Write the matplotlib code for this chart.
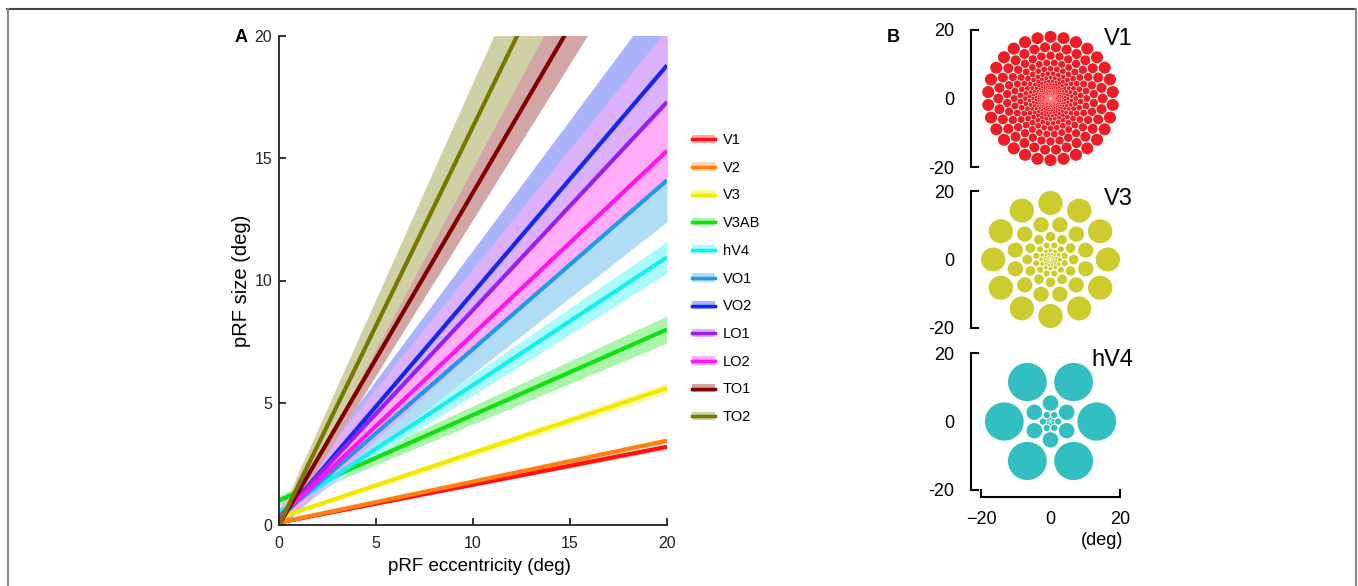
import numpy as np
import matplotlib
matplotlib.use("Agg")
import matplotlib.pyplot as plt
from matplotlib.lines import Line2D
from matplotlib.patches import Patch, Circle
from matplotlib.legend_handler import HandlerTuple
from matplotlib.colors import to_rgb

plt.rcParams['font.family'] = ['Liberation Sans', 'DejaVu Sans']

# ---------------- data: panel A ----------------
roi_names = ['V1', 'V2', 'V3', 'V3AB', 'hV4', 'VO1', 'VO2', 'LO1', 'LO2', 'TO1', 'TO2']
roi_colors = ['#ff1010', '#ff8010', '#f0ea00', '#10e010', '#10f0f0', '#1e9be6',
              '#1028f0', '#9a1ef0', '#ff14ee', '#800000', '#787800']
ecc_range = [0.0, 20.0]
size_at_0 = [0.1, 0.1, 0.3, 1.0, 0.5, 0.3, 0.2, 0.3, 0.3, 0.0, 0.0]
size_at_20 = [3.2, 3.45, 5.6, 8.0, 10.95, 14.1, 18.8, 17.3, 15.3, 27.2, 32.6]
ci_low_0 = [0.05, 0.05, 0.2, 0.8, 0.3, 0.0, -0.2, -0.1, 0.1, -0.3, -0.3]
ci_high_0 = [0.15, 0.15, 0.4, 1.2, 0.7, 0.6, 0.6, 0.7, 0.5, 0.3, 0.3]
ci_low_20 = [3.1, 3.35, 5.4, 7.45, 10.3, 12.4, 15.7, 14.3, 14.2, 25.2, 29.4]
ci_high_20 = [3.3, 3.55, 5.8, 8.55, 11.6, 15.6, 21.9, 20.3, 17.2, 29.4, 35.8]
a_xticks = [0, 5, 10, 15, 20]
a_yticks = [0, 5, 10, 15, 20]
band_alpha = 0.35

# ---------------- data: panel B ----------------
mosaic_names = ['V1', 'V3', 'hV4']
mosaic_colors = ['#ee1c25', '#cccc2e', '#33bfc2']
ring_counts = [30, 12, 6]           # pRFs per ring
outer_ecc = [18.0, 16.5, 13.3]      # eccentricity of outermost ring (deg)
ring_offset_deg = [90.0, 90.0, 0.0] # polar angle of first pRF in outer ring
fill_factor = [0.93, 0.82, 0.84]
b_ticks = [-20, 0, 20]

W, H = 1358, 586
fig = plt.figure(figsize=(W / 100, H / 100), dpi=100)


def fx(px):
    return px / W


def fy(py):
    return 1 - py / H


def light(c, a=band_alpha):
    r, g, b = to_rgb(c)
    return (1 - a * (1 - r), 1 - a * (1 - g), 1 - a * (1 - b))


# ---------------- panel A ----------------
axA = fig.add_axes([fx(279), fy(525), fx(667) - fx(279), fy(36) - fy(525)])
x = np.array(ecc_range)
for i, name in enumerate(roi_names):
    axA.fill_between(x, [ci_low_0[i], ci_low_20[i]], [ci_high_0[i], ci_high_20[i]],
                     color=light(roi_colors[i]), lw=0, zorder=1)
for i, name in enumerate(roi_names):
    axA.plot(x, [size_at_0[i], size_at_20[i]], color=roi_colors[i], lw=3,
             solid_capstyle='butt', zorder=2)
axA.set_xlim(0, 20)
axA.set_ylim(0, 20)
axA.set_xticks(a_xticks)
axA.set_yticks(a_yticks)
axA.spines['top'].set_visible(False)
axA.spines['right'].set_visible(False)
for s in ['left', 'bottom']:
    axA.spines[s].set_linewidth(1.3)
    axA.spines[s].set_color('#222222')
axA.tick_params(axis='both', direction='in', length=5, width=1.3, labelsize=11.5,
                colors='#222222')
axA.tick_params(axis='y', pad=5)
axA.tick_params(axis='x', pad=8)
axA.set_xlabel('pRF eccentricity (deg)', fontsize=13.5)
axA.set_ylabel('pRF size (deg)', fontsize=14.5)
axA.xaxis.set_label_coords(0.517, -0.067)
axA.yaxis.set_label_coords(-0.072, 0.5)

handles = []
for i, name in enumerate(roi_names):
    handles.append((Patch(facecolor=light(roi_colors[i]), lw=0),
                    Line2D([], [], color=roi_colors[i], lw=2.5)))
leg = fig.legend(handles, roi_names, loc='upper left',
                 bbox_to_anchor=(fx(692), fy(133)), frameon=False,
                 fontsize=10.5, handlelength=1.6, handleheight=0.5,
                 handletextpad=0.5, labelspacing=0.94, borderpad=0,
                 borderaxespad=0,
                 handler_map={tuple: HandlerTuple(ndivide=1, pad=0)})

fig.text(fx(235), fy(42), 'A', fontsize=13, fontweight='bold', ha='left',
         va='baseline')
fig.text(fx(887), fy(42), 'B', fontsize=13, fontweight='bold', ha='left',
         va='baseline')

# ---------------- panel B ----------------
b_tops = [30, 191, 353]
for k, name in enumerate(mosaic_names):
    top = b_tops[k]
    ax = fig.add_axes([fx(981), fy(top + 137), fx(1120) - fx(981),
                       fy(top) - fy(top + 137)])
    N = ring_counts[k]
    q = np.exp(-(2 * np.pi / N) * (np.sqrt(3) / 2))
    r = outer_ecc[k]
    j = 0
    while r > 0.35:
        ang0 = np.deg2rad(ring_offset_deg[k]) + (j % 2) * np.pi / N
        angs = ang0 + np.arange(N) * 2 * np.pi / N
        rad = fill_factor[k] * r * np.sin(np.pi / N)
        for a in angs:
            ax.add_patch(Circle((r * np.cos(a), r * np.sin(a)), rad,
                                facecolor=mosaic_colors[k], edgecolor='none'))
        r *= q
        j += 1
    ax.set_xlim(-20, 20)
    ax.set_ylim(-20, 20)
    ax.set_yticks(b_ticks)
    ax.set_yticklabels(['-20', '0', '20'])
    ax.spines['top'].set_visible(False)
    ax.spines['right'].set_visible(False)
    ax.spines['left'].set_position(('outward', 7))
    ax.spines['left'].set_linewidth(1.5)
    ax.tick_params(axis='y', direction='in', length=6, width=1.5, labelsize=13,
                   pad=12)
    ax.yaxis.get_major_ticks()[1].tick1line.set_visible(False)
    if k == 2:
        ax.spines['bottom'].set_position(('outward', 5))
        ax.spines['bottom'].set_linewidth(1.5)
        ax.set_xticks(b_ticks)
        ax.set_xticklabels(['\u221220', '0', '20'])
        ax.tick_params(axis='x', direction='in', length=6, width=1.5,
                       labelsize=13, pad=10)
        ax.xaxis.get_major_ticks()[1].tick1line.set_visible(False)
        ax.text(1.02, -0.37, '(deg)', transform=ax.transAxes, fontsize=13,
                ha='right', va='center')
    else:
        ax.spines['bottom'].set_visible(False)
        ax.set_xticks([])
    ax.patch.set_alpha(0)
    ax.text(23.8, [15.6, 15.9, 16.2][k], name, fontsize=17, ha='right',
            va='baseline', clip_on=False)

# figure frame (top, left, right edges)
fig.add_artist(Line2D([fx(7), fx(1356)], [fy(9), fy(9)], transform=fig.transFigure,
                      color='#444444', lw=1.5))
fig.add_artist(Line2D([fx(7.5), fx(7.5)], [fy(9), 0], transform=fig.transFigure,
                      color='#888888', lw=1.5))
fig.add_artist(Line2D([fx(1356), fx(1356)], [fy(9), 0], transform=fig.transFigure,
                      color='#888888', lw=1.5))

fig.savefig('out.png', dpi=100)
